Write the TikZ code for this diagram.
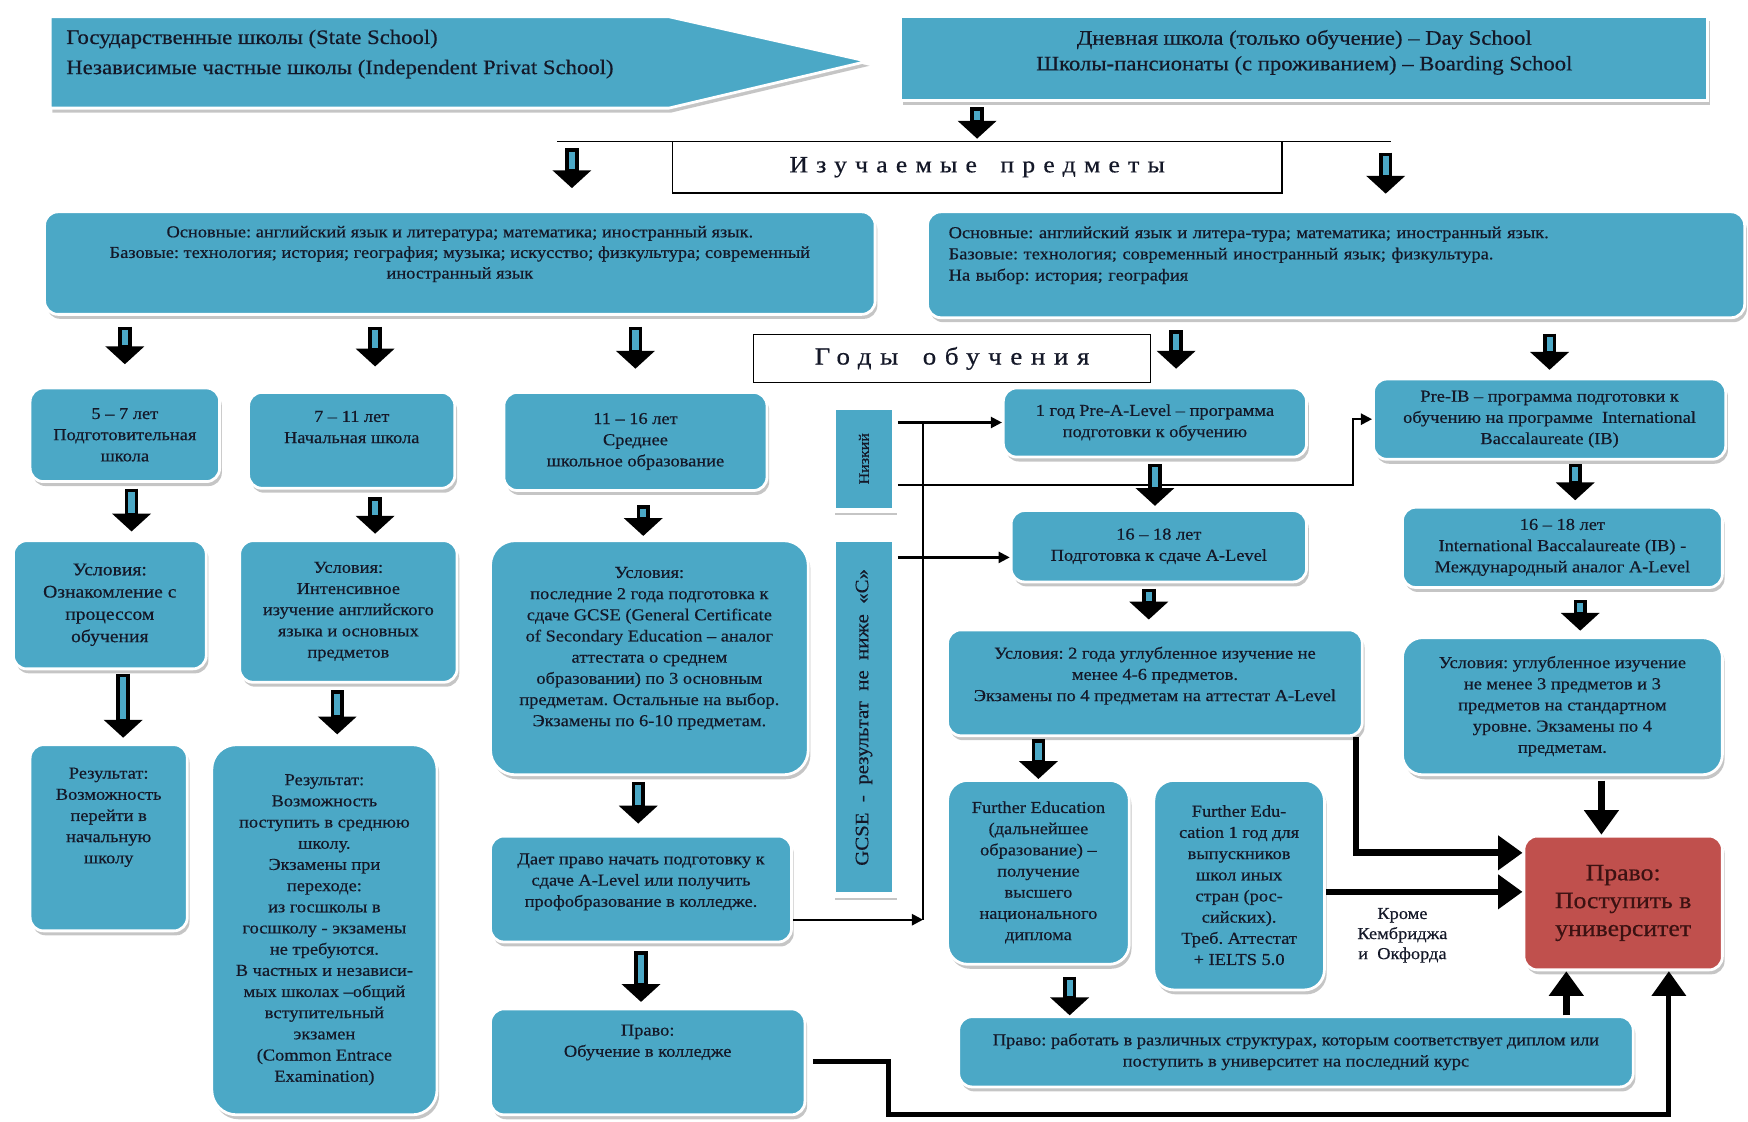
\documentclass[tikz,border=0pt]{standalone}
\usepackage{fontspec}
\setmainfont[FakeStretch=1.1, FakeBold=0.5]{Liberation Serif}
\usepackage{graphicx}
\usetikzlibrary{arrows.meta,shadows}

\definecolor{boxblue}{RGB}{75,168,198}
\definecolor{boxred}{RGB}{192,80,77}
\definecolor{ink}{RGB}{20,24,40}
\definecolor{redink}{RGB}{60,18,18}

\newcommand{\vpad}[1]{\\[#1]\mbox{}}
\frenchspacing

\tikzset{
  box/.style={rounded corners=12pt, fill=boxblue, draw=white, line width=2.5pt,
    drop shadow={shadow xshift=2pt, shadow yshift=-4pt, fill=black!45},
    align=center, text=ink, inner sep=3pt, font=\fontsize{15}{19}\selectfont},
  sqbox/.style={box, sharp corners},
  tagbox/.style={sqbox, line width=5pt},
  hdr/.style={draw=black, line width=1.2pt, fill=white, inner sep=2pt, text=ink,
    font=\fontsize{21}{24}\selectfont\addfontfeature{LetterSpace=35}},
  blk/.style 2 args={line width=12pt, shorten <=#1pt, shorten >=#2pt,
    -{Triangle[length=16pt,width=34pt]},
    postaction={draw=boxblue, line width=5.5pt, -, shorten <=#1pt+3pt, shorten >=#2pt+17pt}},
  conn/.style={line width=2pt, -{Triangle[length=10pt,width=10pt]}},
  bigarr/.style={line width=6pt, -{Triangle[length=22pt,width=30pt]}},
}

\begin{document}
\begin{tikzpicture}[x=1pt, y=-1pt]
  \useasboundingbox (0,0) rectangle (1568,1006);

  \path[sqbox] (45,15) -- (600,15) -- (778,55) -- (600,97) -- (45,97) -- cycle;
  \node[anchor=west, align=left, text=ink, font=\fontsize{18.5}{27}\selectfont] (st) at (56,48.5)
    {Государственные школы (State School)\\Независимые частные школы (Independent Privat School)};
  \node[sqbox, minimum width=724, minimum height=75, font=\fontsize{18.5}{23}\selectfont] (tr) at (1170,52.5)
    {Дневная школа (только обучение) – Day School\\Школы-пансионаты (с проживанием) – Boarding School\vpad{-8pt}};

  \draw[line width=1.5pt] (500,127) -- (1248,127);
  \coordinate (bL) at (513,133);
  \coordinate (bR) at (1243,137);
  \node[hdr, minimum width=547, minimum height=46] (iz) at (876.5,150) {Изучаемые\quad предметы};

  \node[box, minimum width=745, minimum height=92, font=\fontsize{15}{18.5}\selectfont] (sl) at (412.5,236)
    {Основные: английский язык и литература; математика; иностранный язык.\\
     Базовые: технология; история; география; музыка; искусство; физкультура; современный\\
     иностранный язык\vpad{1pt}};
  \node[box, minimum width=733, minimum height=95, align=left, text width=695, font=\fontsize{15}{19}\selectfont] (sr) at (1198.5,237.5)
    {Основные: английский язык и литера-тура; математика; иностранный язык.\\
     Базовые: технология; современный иностранный язык; физкультура.\\
     На выбор: история; география\vpad{1pt}};

  \node[hdr, minimum width=356, minimum height=43, font=\fontsize{22}{24}\selectfont\addfontfeature{LetterSpace=35}] (god) at (854,321.5) {Годы\quad обучения};

  \node[box, minimum width=170, minimum height=84] (c1a) at (112,390) {5 – 7 лет\\Подготовительная\\школа};
  \node[box, minimum width=173, minimum height=115, font=\fontsize{16}{20}\selectfont] (c1b) at (98.5,542.5)
    {Условия:\\Ознакомление с\\процессом\\обучения};
  \node[box, minimum width=141, minimum height=167] (c1c) at (97.5,751.5)
    {Результат:\\Возможность\\перейти в\\начальную\\школу\vpad{21pt}};

  \node[box, minimum width=185, minimum height=86] (c2a) at (315.5,395) {7 – 11 лет\\Начальная школа\vpad{5pt}};
  \node[box, minimum width=195, minimum height=127] (c2b) at (312.5,548.5)
    {Условия:\\Интенсивное\\изучение английского\\языка и основных\\предметов};
  \node[box, minimum width=202, minimum height=332, rounded corners=22pt] (c2c) at (291,834)
    {Результат:\\Возможность\\поступить в среднюю\\школу.\\Экзамены при\\переходе:\\из госшколы в\\госшколу - экзамены\\не требуются.\\В частных и независи-\\мых школах –общий\\вступительный\\экзамен\\(Common Entrace\\Examination)};

  \node[box, minimum width=236, minimum height=88] (c3a) at (570,396) {11 – 16 лет\\Среднее\\школьное образование};
  \node[box, minimum width=285, minimum height=210, rounded corners=22pt] (c3b) at (582.5,590)
    {Условия:\\последние 2 года подготовка к\\сдаче GCSE (General Certificate\\of Secondary Education – аналог\\аттестата о среднем\\образовании) по 3 основным\\предметам. Остальные на выбор.\\Экзамены по 6-10 предметам.\vpad{1pt}};
  \node[box, minimum width=270, minimum height=95] (c3c) at (575,797.5)
    {Дает право начать подготовку к\\сдаче A-Level или получить\\профобразование в колледже.\vpad{-3pt}};
  \node[box, minimum width=282, minimum height=95] (c3d) at (581,952.5) {Право:\\Обучение в колледже\vpad{19pt}};

  \node[tagbox, minimum width=56, minimum height=93, font=\fontsize{13}{15}\selectfont] (nz) at (775,411.5) {\rotatebox{90}{Низкий}};
  \node[tagbox, minimum width=56, minimum height=319, font=\fontsize{17}{20}\selectfont] (gc) at (775,643.5)
    {\rotatebox{90}{GCSE\ \ -\ \ результат\ \ не\ \ ниже\ \ «С»}};

  \node[box, minimum width=272, minimum height=62] (pa) at (1036,379) {1 год Pre-A-Level – программа\\подготовки к обучению};
  \node[box, minimum width=265, minimum height=64] (al) at (1039.5,490) {16 – 18 лет\\Подготовка к сдаче A-Level};
  \node[box, minimum width=372, minimum height=95] (ac) at (1036,612.5)
    {Условия: 2 года углубленное изучение не\\менее 4-6 предметов.\\Экзамены по 4 предметам на аттестат A-Level\vpad{-3pt}};
  \node[box, minimum width=163, minimum height=165, rounded corners=18pt] (fe) at (931.5,782.5)
    {Further Education\\(дальнейшее\\образование) –\\получение\\высшего\\национального\\диплома};
  \node[box, minimum width=153, minimum height=188, rounded corners=18pt] (fe1) at (1111.5,794)
    {Further Edu-\\cation 1 год для\\выпускников\\школ иных\\стран (рос-\\сийских).\\Треб. Аттестат\\+ IELTS 5.0};
  \node[box, minimum width=605, minimum height=63] (pw) at (1162.5,943.5)
    {Право: работать в различных структурах, которым соответствует диплом или\\поступить в университет на последний курс};

  \node[box, minimum width=316, minimum height=72] (pib) at (1390,376)
    {Pre-IB – программа подготовки к\\обучению на программе\ \ International\\Baccalaureate (IB)};
  \node[box, minimum width=287, minimum height=72] (ib) at (1401.5,491)
    {16 – 18 лет\\International Baccalaureate (IB) -\\Международный аналог A-Level};
  \node[box, minimum width=287, minimum height=123, rounded corners=18pt] (ic) at (1401.5,633.5)
    {Условия: углубленное изучение\\не менее 3 предметов и 3\\предметов на стандартном\\уровне. Экзамены по 4\\предметам.};

  \node[box, fill=boxred, text=redink, minimum width=178, minimum height=120, font=\fontsize{21}{25}\selectfont] (un) at (1456,810)
    {Право:\\Поступить в\\университет};
  \node[text=ink, align=center, font=\fontsize{15}{18}\selectfont] (kr) at (1258,839) {Кроме\\Кембриджа\\и\ \ Окфорда};

  \coordinate (busB) at (828,825);
  \draw[line width=2pt] (busB) -- (busB |- pa.west);
  \draw[conn] ([yshift=-27.5pt]c3c.east) -- (busB);
  \draw[conn] (nz.east |- pa.west) -- (pa.west);
  \draw[conn] ([yshift=-23.5pt]nz.east) -| ([xshift=-17pt]pib.west) -- (pib.west);
  \draw[conn] ([yshift=-10pt]al.west -| gc.east) -- ([yshift=-10pt]al.west);

  \draw[blk={5}{2}] (iz.north |- tr.south) -- (iz.north);
  \draw[blk={0}{20}] (bL) -- (bL |- sl.north);
  \draw[blk={0}{15}] (bR) -- (bR |- sr.north);
  \draw[blk={10}{20}] (c1a.north |- sl.south) -- (c1a.north);
  \draw[blk={10}{22}] ([xshift=21pt]c2a.north |- sl.south) -- ([xshift=21pt]c2a.north);
  \draw[blk={10}{20}] (c3a.north |- sl.south) -- (c3a.north);
  \draw[blk={10}{16}] ([xshift=19pt]pa.north |- sr.south) -- ([xshift=19pt]pa.north);
  \draw[blk={13}{7}] (pib.north |- sr.south) -- (pib.north);
  \draw[blk={5}{7}] ([xshift=6pt]c1a.south) -- ([xshift=6pt]c1a.south |- c1b.north);
  \draw[blk={3}{5}] ([xshift=12pt]c1b.south) -- ([xshift=12pt]c1b.south |- c1c.north);
  \draw[blk={7}{5}] ([xshift=21pt]c2a.south) -- ([xshift=21pt]c2a.south |- c2b.north);
  \draw[blk={6}{8}] ([xshift=-10pt]c2b.south) -- ([xshift=-10pt]c2b.south |- c2c.north);
  \draw[blk={12}{3}] ([xshift=7pt]c3a.south) -- ([xshift=7pt]c3a.south |- c3b.north);
  \draw[blk={5}{10}] ([xshift=-10pt]c3b.south) -- ([xshift=-10pt]c3b.south |- c3c.north);
  \draw[blk={7}{5}] (c3c.south) -- (c3c.south |- c3d.north);
  \draw[blk={5}{3}] (pa.south) -- (pa.south |- al.north);
  \draw[blk={5}{8}] ([xshift=-9pt]al.south) -- ([xshift=-9pt]al.south |- ac.north);
  \draw[blk={2}{0}] (fe.north |- ac.south) -- (fe.north);
  \draw[blk={10}{0}] ([xshift=28pt]fe.south) -- ([xshift=28pt]fe.south |- pw.north);
  \draw[blk={3}{5}] ([xshift=23pt]pib.south) -- ([xshift=23pt]pib.south |- ib.north);
  \draw[blk={10}{5}] ([xshift=16pt]ib.south) -- ([xshift=16pt]ib.south |- ic.north);

  \draw[bigarr] ([xshift=-7pt]ac.south east) |- ([yshift=45pt]un.west);
  \draw[bigarr] ([yshift=-6pt]fe1.east) -- ([yshift=-6pt]fe1.east -| un.west);
  \draw[bigarr, shorten <=4pt] ([xshift=35pt]ic.south) -- ([xshift=35pt]ic.south |- un.north);
  \draw[bigarr] ([xshift=242.5pt]pw.north) -- ([xshift=242.5pt]pw.north |- un.south);
  \coordinate (lowL) at (797,1000);
  \coordinate (lowR) at (1497,1000);
  \draw[bigarr, line width=4.5pt] ([xshift=6pt]c3d.east) -| (lowL) -- (lowR) -- (lowR |- un.south);
\end{tikzpicture}
\end{document}
